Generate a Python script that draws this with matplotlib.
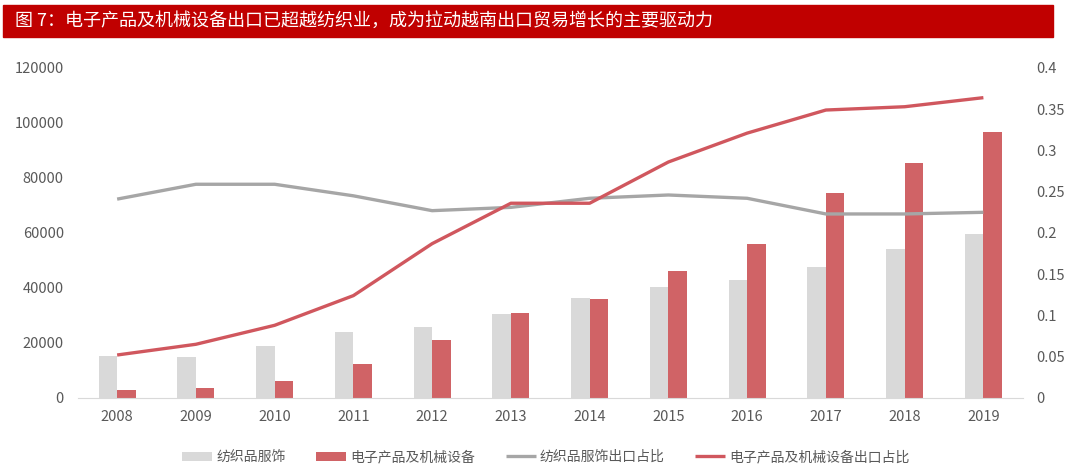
import matplotlib
matplotlib.use("Agg")
import matplotlib.pyplot as plt
from matplotlib.patches import Rectangle
import numpy as np

plt.rcParams['font.family'] = ['Noto Sans CJK SC', 'DejaVu Sans']

years = ['2008', '2009', '2010', '2011', '2012', '2013', '2014', '2015',
         '2016', '2017', '2018', '2019']
# 出口额
textile = [15300, 14800, 18700, 24000, 25800, 30500, 36300, 40300,
           43000, 47600, 54200, 59500]
electronics = [2700, 3600, 6300, 12300, 21200, 31000, 36000, 46200,
               56000, 74500, 85600, 96800]
# 出口占比 (右轴)
textile_share = [0.241, 0.259, 0.259, 0.245, 0.227, 0.231, 0.242, 0.246,
                 0.242, 0.223, 0.223, 0.225]
elec_share = [0.052, 0.065, 0.088, 0.124, 0.187, 0.236, 0.236, 0.286,
              0.321, 0.349, 0.353, 0.364]

title = "图 7：电子产品及机械设备出口已超越纺织业，成为拉动越南出口贸易增长的主要驱动力"

c_gray_bar = "#D9D9D9"
c_red_bar = "#D06366"
c_gray_line = "#A6A6A6"
c_red_line = "#D0575E"
c_tick = "#595959"

fig = plt.figure(figsize=(10.8, 4.72), dpi=100)

# title banner
fig.patches.append(Rectangle((0.003, 1 - 37 / 472), 0.972, 32 / 472,
                             transform=fig.transFigure, color="#C00000", zorder=0))
fig.text(0.014, 1 - 21 / 472, title, color="white", fontsize=13,
         va="center", ha="left")

ax = fig.add_axes([0.072, 0.157, 0.875, 0.699])
ax2 = ax.twinx()

x = np.arange(len(years))
w = 0.235
ax.bar(x - w / 2, textile, width=w, color=c_gray_bar, label="纺织品服饰", zorder=2)
ax.bar(x + w / 2, electronics, width=w, color=c_red_bar, label="电子产品及机械设备", zorder=2)

ax2.plot(x, textile_share, color=c_gray_line, lw=2.4, label="纺织品服饰出口占比",
         solid_capstyle="butt")
ax2.plot(x, elec_share, color=c_red_line, lw=2.4, label="电子产品及机械设备出口占比",
         solid_capstyle="butt")

ax.set_xlim(-0.5, len(years) - 0.5)
ax.set_ylim(0, 120000)
ax.set_yticks(np.arange(0, 120001, 20000))
ax2.set_ylim(0, 0.4)
ax2.set_yticks([0, 0.05, 0.1, 0.15, 0.2, 0.25, 0.3, 0.35, 0.4])
ax2.set_yticklabels(['0', '0.05', '0.1', '0.15', '0.2', '0.25', '0.3', '0.35', '0.4'])
ax.set_xticks(x)
ax.set_xticklabels(years)

for a in (ax, ax2):
    for s in a.spines.values():
        s.set_visible(False)
    a.tick_params(length=0, colors=c_tick, labelsize=10.5)
ax.spines['bottom'].set_visible(True)
ax.spines['bottom'].set_color("#D9D9D9")
ax.tick_params(axis='y', pad=10)
ax.tick_params(axis='x', pad=9)
ax2.tick_params(axis='y', pad=10)

h1, l1 = ax.get_legend_handles_labels()
h2, l2 = ax2.get_legend_handles_labels()
fig.legend(h1 + h2, l1 + l2, loc="center", bbox_to_anchor=(546 / 1080, 1 - 457 / 472),
           ncol=4, frameon=False, fontsize=10, labelcolor=c_tick,
           handlelength=2.15, handleheight=0.6, handletextpad=0.3, columnspacing=2.2)

fig.savefig("out.png", dpi=100)
